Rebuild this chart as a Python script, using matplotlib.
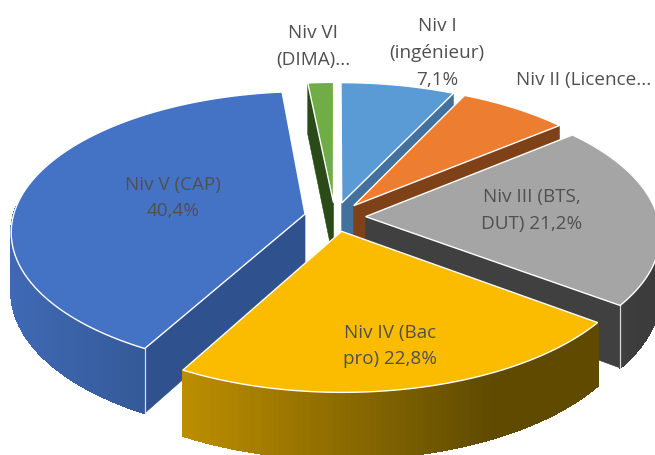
import matplotlib
matplotlib.use("Agg")
import matplotlib.pyplot as plt
from matplotlib.colors import to_rgb
import numpy as np

plt.rcParams['font.family'] = ['Open Sans', 'DejaVu Sans']

levels = ['Niv I', 'Niv II', 'Niv III', 'Niv IV', 'Niv V', 'Niv VI']
values = [7.1, 6.9, 21.2, 22.8, 40.4, 1.6]
top_colors = ['#5B9BD5', '#ED7D31', '#A5A5A5', '#FBBC00', '#4472C4', '#70AD47']
side_colors = ['#41719C', '#7F4218', '#404040', '#7F5F00', '#2F528F', '#2A4A18']
arc_left = ['#41719C', '#7F4218', '#4A4A4A', '#BC8E00', '#3F69B4', '#2A4A18']
arc_right = ['#41719C', '#7F4218', '#3C3C3C', '#5F4A00', '#2F528A', '#2A4A18']

# projection of the tilted pie, in pixels
cx, cy = 335, 217
R, kR = 292, 138
persp = 0.12
depth = 58
explode = 0.105


def project(u, v, z=0):
    s = 1 / (1 + persp * v)
    return cx + R * u * s, cy - kR * v * s + depth * z * s


fig = plt.figure(figsize=(6.55, 4.55), dpi=100)
ax = fig.add_axes([0, 0, 1, 1])
ax.set_xlim(0, 655)
ax.set_ylim(455, 0)
ax.axis('off')

total = sum(values)
edges = np.radians(np.cumsum([0] + values) / total * 360)


def draw_slice(i):
    a0, a1 = edges[i], edges[i + 1]
    mid = (a0 + a1) / 2
    ou, ov = explode * np.sin(mid), explode * np.cos(mid)
    th = np.linspace(a0, a1, 80)
    us = ou + np.sin(th)
    vs = ov + np.cos(th)

    # radial walls, only the ones turned to the viewer
    for a, facing in ((a0, np.sin(a0) < -1e-6), (a1, np.sin(a1) > 1e-6)):
        if not facing:
            continue
        u, v = ou + np.sin(a), ov + np.cos(a)
        pts = [project(ou, ov), project(u, v), project(u, v, 1), project(ou, ov, 1)]
        ax.fill(*zip(*pts), color=side_colors[i], lw=0.4)

    # outer wall with a horizontal gradient
    c0, c1 = np.array(to_rgb(arc_left[i])), np.array(to_rgb(arc_right[i]))
    xs = np.array([project(u, v)[0] for u, v in zip(us, vs)])
    for j in range(len(th) - 1):
        if vs[j] - ov > 0.05:
            continue
        t = (0.5 * (xs[j] + xs[j + 1]) - xs.min()) / (xs.max() - xs.min())
        t = min(t * 1.35, 1)
        col = c0 + (c1 - c0) * t
        pts = [project(us[j], vs[j]), project(us[j + 1], vs[j + 1]),
               project(us[j + 1], vs[j + 1], 1), project(us[j], vs[j], 1)]
        ax.fill(*zip(*pts), color=col, lw=0.8, antialiased=False)

    # white corner lines on the walls
    for a in (a0, a1):
        u, v = ou + np.sin(a), ov + np.cos(a)
        if v < 0 and i != 3:
            p0, p1 = project(u, v), project(u, v, 1)
            ax.plot([p0[0], p1[0]], [p0[1], p1[1]], color='white', lw=0.9, alpha=0.8)

    # top face
    top = [project(ou, ov)] + [project(u, v) for u, v in zip(us, vs)]
    ax.fill(*zip(*top), facecolor=top_colors[i], edgecolor='white', lw=1.0,
            joinstyle='miter')


for i in [5, 0, 1, 4, 2, 3]:
    draw_slice(i)

label_color = '#505050'
fs = 13.6
ax.text(313, 33, 'Niv VI', color=label_color, fontsize=fs, ha='center', va='center')
ax.text(313, 60, '(DIMA)...', color=label_color, fontsize=fs, ha='center', va='center')
ax.text(437, 26, 'Niv I', color=label_color, fontsize=fs, ha='center', va='center')
ax.text(437, 53, '(ingénieur)', color=label_color, fontsize=fs, ha='center', va='center')
ax.text(437, 80, '7,1%', color=label_color, fontsize=fs, ha='center', va='center')
ax.text(584, 80, 'Niv II (Licence...', color=label_color, fontsize=fs, ha='center', va='center')
ax.text(532, 197, 'Niv III (BTS,', color=label_color, fontsize=fs, ha='center', va='center')
ax.text(532, 224, 'DUT) 21,2%', color=label_color, fontsize=fs, ha='center', va='center')
ax.text(390, 333, 'Niv IV (Bac', color=label_color, fontsize=fs, ha='center', va='center')
ax.text(390, 359, 'pro) 22,8%', color=label_color, fontsize=fs, ha='center', va='center')
ax.text(173, 185, 'Niv V (CAP)', color=label_color, fontsize=fs, ha='center', va='center')
ax.text(173, 211, '40,4%', color=label_color, fontsize=fs, ha='center', va='center')

fig.savefig('out.png', dpi=100)
